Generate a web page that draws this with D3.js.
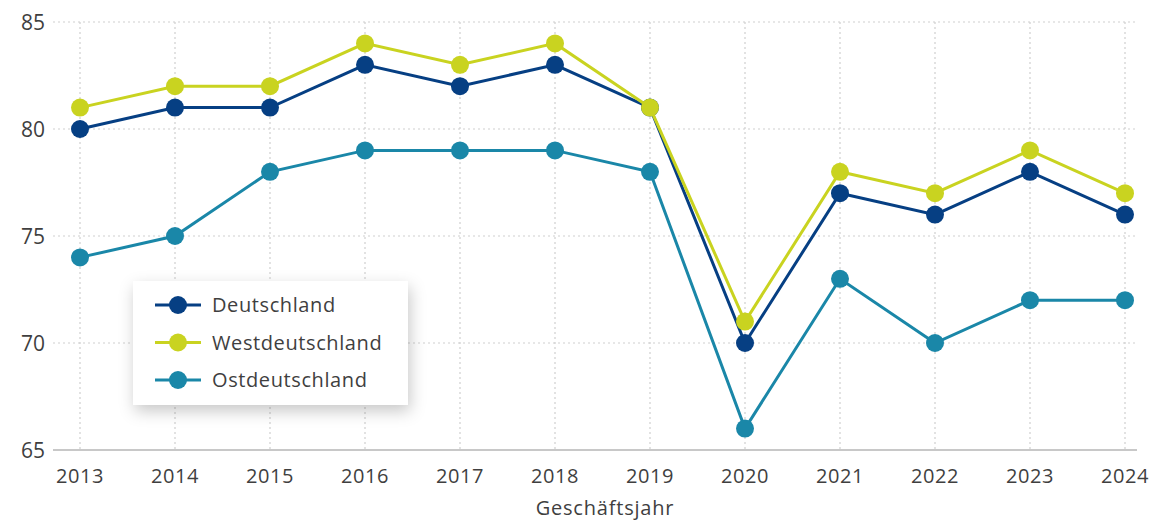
<!DOCTYPE html>
<html>
<head>
<meta charset="utf-8">
<script src="https://cdn.jsdelivr.net/npm/d3@7"></script>
<style>
  body { margin: 0; background: #fff; }
  text { font-family: "Open Sans", "Noto Sans", sans-serif; fill: #3f3f3f; }
</style>
</head>
<body>
<div id="chart"></div>
<script>
// --- données ---
const jahre = [2013, 2014, 2015, 2016, 2017, 2018, 2019, 2020, 2021, 2022, 2023, 2024];
const deutschland = [80, 81, 81, 83, 82, 83, 81, 70, 77, 76, 78, 76];
const westdeutschland = [81, 82, 82, 84, 83, 84, 81, 71, 78, 77, 79, 77];
const ostdeutschland = [74, 75, 78, 79, 79, 79, 78, 66, 73, 70, 72, 72];
const yTicks = [65, 70, 75, 80, 85];

const serien = [
  { name: "Ostdeutschland", werte: ostdeutschland, farbe: "#1a87a8" },
  { name: "Deutschland", werte: deutschland, farbe: "#063f83" },
  { name: "Westdeutschland", werte: westdeutschland, farbe: "#c9d320" }
];
const legendeReihenfolge = ["Deutschland", "Westdeutschland", "Ostdeutschland"];

const largeur = 1159, hauteur = 523;
const svg = d3.select("#chart").append("svg")
  .attr("width", largeur).attr("height", hauteur);

const x = d3.scalePoint().domain(jahre).range([80, 1125]);
const y = d3.scaleLinear().domain([65, 85]).range([450, 22]);

// grille horizontale
svg.append("g").selectAll("line").data(yTicks.filter(t => t > 65)).join("line")
  .attr("x1", 53).attr("x2", 1137)
  .attr("y1", d => y(d)).attr("y2", d => y(d))
  .attr("stroke", "#cfcfcf").attr("stroke-width", 1.2).attr("stroke-dasharray", "2,3");

// grille verticale
svg.append("g").selectAll("line").data(jahre).join("line")
  .attr("x1", d => x(d)).attr("x2", d => x(d))
  .attr("y1", y(85)).attr("y2", y(65))
  .attr("stroke", "#cfcfcf").attr("stroke-width", 1.2).attr("stroke-dasharray", "2,3");

// ligne de base
svg.append("line")
  .attr("x1", 53).attr("x2", 1137).attr("y1", y(65)).attr("y2", y(65))
  .attr("stroke", "#c8c8c8").attr("stroke-width", 2);

// axe Y
svg.append("g").selectAll("text").data(yTicks).join("text")
  .attr("x", 45).attr("y", d => y(d)).attr("dy", "0.36em")
  .attr("text-anchor", "end").attr("font-size", 21)
  .text(d => d);

// axe X
svg.append("g").selectAll("text").data(jahre).join("text")
  .attr("x", d => x(d)).attr("y", 483)
  .attr("text-anchor", "middle").attr("font-size", 20).attr("letter-spacing", 0.6)
  .text(d => d);

svg.append("text")
  .attr("x", 605).attr("y", 515)
  .attr("text-anchor", "middle").attr("font-size", 20).attr("letter-spacing", 0.8)
  .text("Geschäftsjahr");

// séries
const line = d3.line().x((d, i) => x(jahre[i])).y(d => y(d));
serien.forEach(s => {
  const g = svg.append("g");
  g.append("path").datum(s.werte)
    .attr("d", line).attr("fill", "none")
    .attr("stroke", s.farbe).attr("stroke-width", 3);
  g.selectAll("circle").data(s.werte).join("circle")
    .attr("cx", (d, i) => x(jahre[i])).attr("cy", d => y(d))
    .attr("r", 9).attr("fill", s.farbe);
});

// légende
const defs = svg.append("defs");
const filter = defs.append("filter").attr("id", "ombre")
  .attr("x", "-20%").attr("y", "-20%").attr("width", "140%").attr("height", "160%");
filter.append("feDropShadow").attr("dx", 2).attr("dy", 6).attr("stdDeviation", 8)
  .attr("flood-color", "#000").attr("flood-opacity", 0.22);

const leg = svg.append("g").attr("transform", "translate(133,281)");
leg.append("rect").attr("width", 275).attr("height", 124)
  .attr("fill", "#fff").attr("filter", "url(#ombre)");
legendeReihenfolge.forEach((name, i) => {
  const s = serien.find(d => d.name === name);
  const row = leg.append("g").attr("transform", `translate(0,${24 + i * 37.5})`);
  row.append("line").attr("x1", 22).attr("x2", 68).attr("y1", 0).attr("y2", 0)
    .attr("stroke", s.farbe).attr("stroke-width", 3);
  row.append("circle").attr("cx", 45).attr("cy", 0).attr("r", 9).attr("fill", s.farbe);
  row.append("text").attr("x", 79).attr("y", 0).attr("dy", "0.36em")
    .attr("font-size", 20).attr("letter-spacing", 0.6).text(name);
});
</script>
</body>
</html>
